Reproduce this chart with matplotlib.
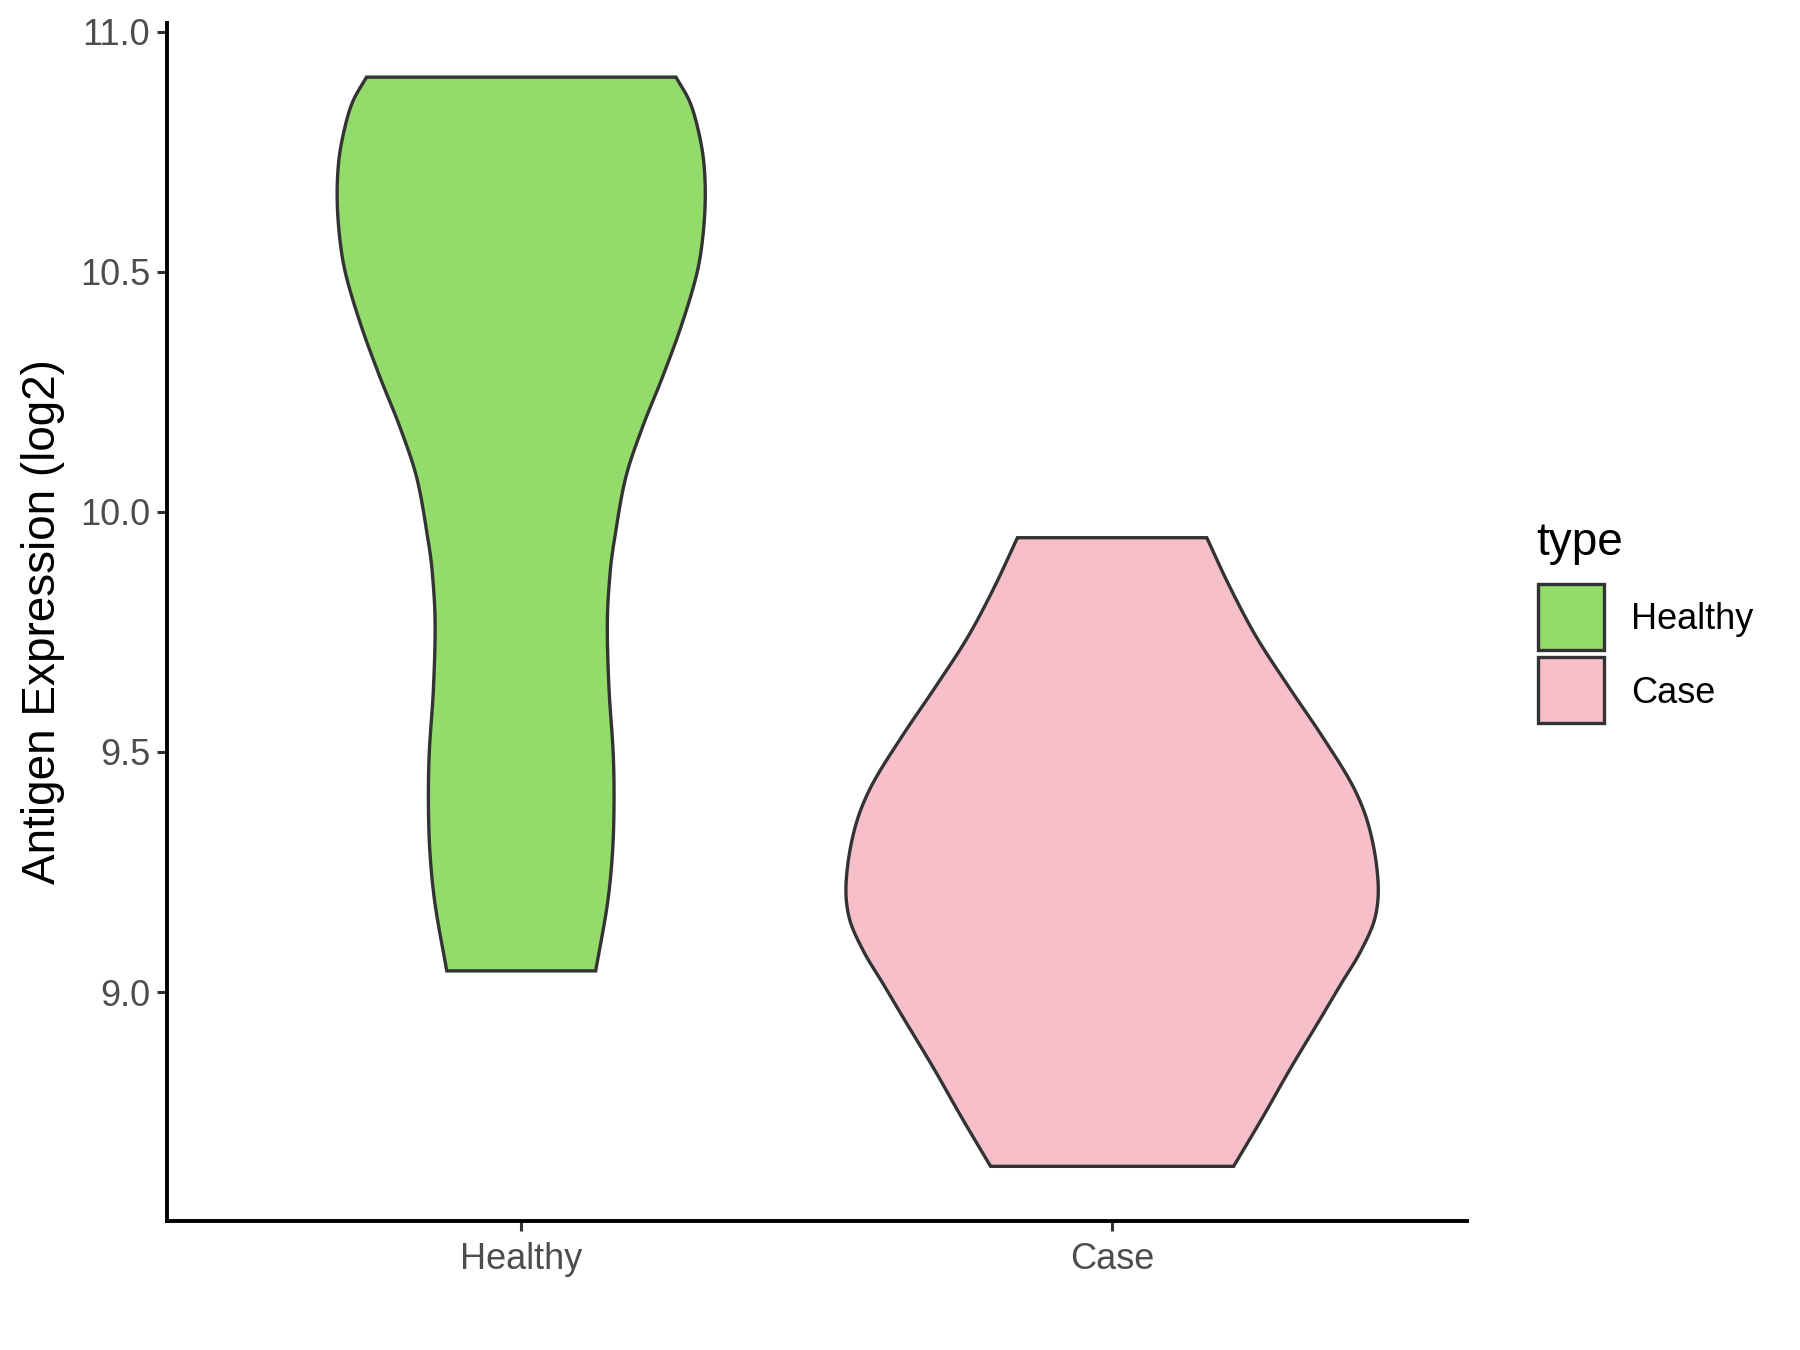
import numpy as np
import matplotlib
matplotlib.use("Agg")
import matplotlib.pyplot as plt
from matplotlib.patches import Rectangle

plt.rcParams["font.family"] = ["Liberation Sans", "DejaVu Sans"]

# Groups and fill colours
groups = ["Healthy", "Case"]
fill_colors = ["#93DB6A", "#F7BFCA"]
outline_color = "#333333"

# Kernel-density profiles (expression value, relative density; the widest
# density over both groups equals 1)
healthy_expr = [10.905, 10.856, 10.801, 10.731, 10.648, 10.558, 10.488, 10.384,
                10.280, 10.176, 10.071, 9.940, 9.877, 9.773, 9.634, 9.496,
                9.392, 9.288, 9.183, 9.044]
healthy_dens = [0.582, 0.632, 0.663, 0.686, 0.692, 0.680, 0.657, 0.600,
                0.531, 0.456, 0.393, 0.350, 0.335, 0.324, 0.330, 0.346,
                0.349, 0.343, 0.324, 0.280]

case_expr = [9.946, 9.842, 9.738, 9.634, 9.530, 9.426, 9.340, 9.231,
             9.155, 9.085, 9.016, 8.947, 8.842, 8.738, 8.637]
case_dens = [0.356, 0.444, 0.544, 0.666, 0.793, 0.908, 0.968, 1.000,
             0.989, 0.935, 0.860, 0.786, 0.672, 0.565, 0.457]

y_ticks = [9.0, 9.5, 10.0, 10.5, 11.0]
y_label = "Antigen Expression (log2)"
legend_title = "type"

VIOLIN_WIDTH = 0.9


def smooth_profile(ys, ds, steps=30):
    """Cubic Hermite curve through the profile points, parameterised by y."""
    y = np.asarray(ys, float)
    d = np.asarray(ds, float)
    n = len(y)
    m = np.empty(n)
    m[0] = (d[1] - d[0]) / (y[1] - y[0])
    m[-1] = (d[-1] - d[-2]) / (y[-1] - y[-2])
    for i in range(1, n - 1):
        m[i] = (d[i + 1] - d[i - 1]) / (y[i + 1] - y[i - 1])
    oy, od = [], []
    for i in range(n - 1):
        h = y[i + 1] - y[i]
        t = np.linspace(0, 1, steps, endpoint=False)
        h00 = 2 * t**3 - 3 * t**2 + 1
        h10 = t**3 - 2 * t**2 + t
        h01 = -2 * t**3 + 3 * t**2
        h11 = t**3 - t**2
        oy.append(y[i] + h * t)
        od.append(h00 * d[i] + h10 * h * m[i] + h01 * d[i + 1] + h11 * h * m[i + 1])
    oy.append([y[-1]])
    od.append([d[-1]])
    return np.concatenate(oy), np.concatenate(od)


W, H = 1800, 1350
fig = plt.figure(figsize=(18, 13.5), dpi=100)
ax = fig.add_axes([0.0926, 0.0957, 0.7222, 0.8875])

profiles = [(healthy_expr, healthy_dens), (case_expr, case_dens)]
for i, ((ys, ds), color) in enumerate(zip(profiles, fill_colors)):
    pos = i + 1
    sy, sd = smooth_profile(ys, ds)
    half = sd * VIOLIN_WIDTH / 2
    xs = np.concatenate([pos - half, (pos + half)[::-1]])
    yy = np.concatenate([sy, sy[::-1]])
    ax.fill(xs, yy, facecolor=color, edgecolor=outline_color,
            linewidth=2.4, joinstyle="miter", zorder=2)

# Axis limits with ggplot-style expansion
all_vals = healthy_expr + case_expr
lo, hi = min(all_vals), max(all_vals)
pad = 0.05 * (hi - lo)
ax.set_ylim(lo - pad, hi + pad)
ax.set_xlim(0.4, len(groups) + 0.6)

ax.set_xticks(range(1, len(groups) + 1))
ax.set_xticklabels(groups)
ax.set_yticks(y_ticks)
ax.set_yticklabels([f"{v:.1f}" for v in y_ticks])
ax.tick_params(axis="both", labelsize=26, labelcolor="#4D4D4D",
               color="#333333", length=7, width=2.2)
ax.tick_params(axis="y", pad=5)
ax.tick_params(axis="x", pad=8)
ax.set_ylabel(y_label, fontsize=33, color="black")
ax.yaxis.set_label_coords(-0.0786, 0.5)

for side in ["top", "right"]:
    ax.spines[side].set_visible(False)
for side in ["left", "bottom"]:
    ax.spines[side].set_linewidth(2.8)
    ax.spines[side].set_color("black")

# Legend drawn in figure pixel coordinates
def fx(px):
    return px / W


def fy(py):
    return 1 - py / H


fig.text(fx(1536), fy(555), legend_title, fontsize=33, color="black",
         ha="left", va="baseline")
key_tops = [584, 657]
label_baselines = [629, 703]
for g, c, top, base in zip(groups, fill_colors, key_tops, label_baselines):
    fig.add_artist(Rectangle((fx(1538), fy(top + 66)), fx(66), 66 / H,
                             transform=fig.transFigure, facecolor=c,
                             edgecolor=outline_color, linewidth=2.4))
    fig.text(fx(1631), fy(base), g, fontsize=26, color="black",
             ha="left", va="baseline")

fig.savefig("out.png", dpi=100, facecolor="white")
